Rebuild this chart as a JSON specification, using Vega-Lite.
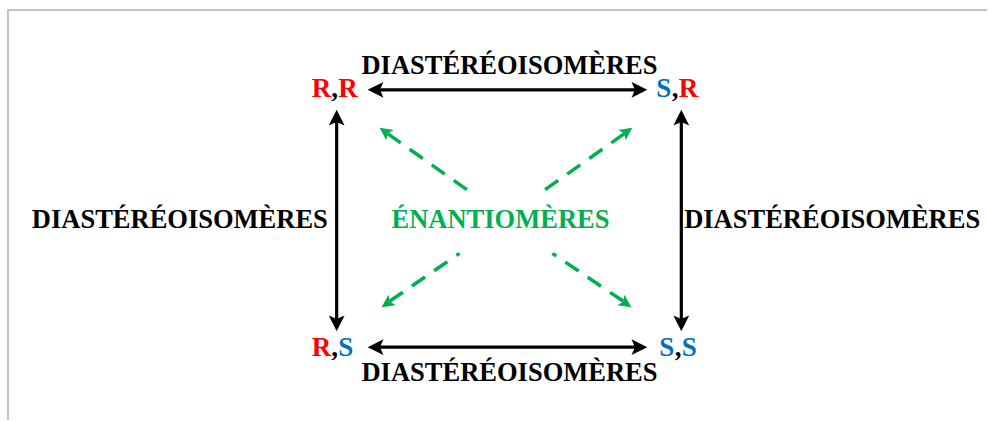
{
  "$schema": "https://vega.github.io/schema/vega-lite/v6.json",
  "width": 988,
  "height": 421,
  "autosize": {"type": "fit", "contains": "padding"},
  "padding": 0,
  "background": "#ffffff",
  "config": {"view": {"stroke": null}},
  "datasets": {
    "frame": [
      {"x1": 7, "y1": 10, "x2": 988, "y2": 10},
      {"x1": 8, "y1": 9, "x2": 8, "y2": 421}
    ],
    "shafts": [
      {"x1": 378, "y1": 90, "x2": 638, "y2": 90, "relation": "diast"},
      {"x1": 378, "y1": 348, "x2": 638, "y2": 348, "relation": "diast"},
      {"x1": 337, "y1": 120, "x2": 337, "y2": 321, "relation": "diast"},
      {"x1": 682, "y1": 120, "x2": 682, "y2": 321, "relation": "diast"},
      {"x1": 388, "y1": 134, "x2": 470, "y2": 192, "relation": "enant"},
      {"x1": 625, "y1": 134, "x2": 543, "y2": 192, "relation": "enant"},
      {"x1": 390, "y1": 302, "x2": 460, "y2": 254, "relation": "enant"},
      {"x1": 624, "y1": 302, "x2": 553, "y2": 254, "relation": "enant"}
    ],
    "heads": [
      {"x": 368, "y": 90, "direction": 270, "relation": "diast"},
      {"x": 648, "y": 90, "direction": 90, "relation": "diast"},
      {"x": 368, "y": 348, "direction": 270, "relation": "diast"},
      {"x": 648, "y": 348, "direction": 90, "relation": "diast"},
      {"x": 337, "y": 110, "direction": 0, "relation": "diast"},
      {"x": 337, "y": 332, "direction": 180, "relation": "diast"},
      {"x": 682, "y": 110, "direction": 0, "relation": "diast"},
      {"x": 682, "y": 332, "direction": 180, "relation": "diast"},
      {"x": 380, "y": 128, "direction": 305.4, "relation": "enant"},
      {"x": 633, "y": 128, "direction": 54.6, "relation": "enant"},
      {"x": 382, "y": 308, "direction": 235.3, "relation": "enant"},
      {"x": 632, "y": 308, "direction": 124.4, "relation": "enant"}
    ],
    "labels": [
      {"x": 510, "y": 74, "text": "DIASTÉRÉOISOMÈRES", "tone": "diast"},
      {"x": 510, "y": 382, "text": "DIASTÉRÉOISOMÈRES", "tone": "diast"},
      {"x": 180, "y": 229, "text": "DIASTÉRÉOISOMÈRES", "tone": "diast"},
      {"x": 833, "y": 229, "text": "DIASTÉRÉOISOMÈRES", "tone": "diast"},
      {"x": 501, "y": 229, "text": "ÉNANTIOMÈRES", "tone": "enant"}
    ],
    "configs": [
      {"x": 312, "y": 97, "text": "R", "tone": "R"},
      {"x": 331.5, "y": 97, "text": ",", "tone": "sep"},
      {"x": 338.5, "y": 97, "text": "R", "tone": "R"},
      {"x": 657, "y": 97, "text": "S", "tone": "S"},
      {"x": 672.5, "y": 97, "text": ",", "tone": "sep"},
      {"x": 679.5, "y": 97, "text": "R", "tone": "R"},
      {"x": 312, "y": 357, "text": "R", "tone": "R"},
      {"x": 331.5, "y": 357, "text": ",", "tone": "sep"},
      {"x": 338.5, "y": 357, "text": "S", "tone": "S"},
      {"x": 660, "y": 357, "text": "S", "tone": "S"},
      {"x": 675.5, "y": 357, "text": ",", "tone": "sep"},
      {"x": 682.5, "y": 357, "text": "S", "tone": "S"}
    ]
  },
  "encoding": {
    "x": {"field": "x1", "type": "quantitative", "axis": null, "scale": {"domain": [0, 988], "nice": false, "zero": false}},
    "y": {"field": "y1", "type": "quantitative", "axis": null, "scale": {"domain": [0, 421], "nice": false, "zero": false, "reverse": true}}
  },
  "layer": [
    {
      "data": {"name": "frame"},
      "mark": {"type": "rule", "color": "#c3c3c3", "strokeWidth": 2},
      "encoding": {
        "x2": {"field": "x2"},
        "y2": {"field": "y2"}
      }
    },
    {
      "data": {"name": "shafts"},
      "transform": [{"filter": "datum.relation === 'diast'"}],
      "mark": {"type": "rule", "color": "#000000", "strokeWidth": 3.2},
      "encoding": {
        "x2": {"field": "x2"},
        "y2": {"field": "y2"}
      }
    },
    {
      "data": {"name": "shafts"},
      "transform": [{"filter": "datum.relation === 'enant'"}],
      "mark": {"type": "rule", "color": "#00b050", "strokeWidth": 3.5, "strokeDash": [16, 11]},
      "encoding": {
        "x2": {"field": "x2"},
        "y2": {"field": "y2"}
      }
    },
    {
      "data": {"name": "heads"},
      "transform": [{"filter": "datum.relation === 'diast'"}],
      "mark": {"type": "point", "filled": true, "opacity": 1, "color": "#000000", "strokeWidth": 0, "shape": "M0,0 L0.5,1 L0,0.78 L-0.5,1 Z", "size": 1000},
      "encoding": {
        "x": {"field": "x", "type": "quantitative"},
        "y": {"field": "y", "type": "quantitative"},
        "angle": {"field": "direction", "type": "quantitative", "scale": null}
      }
    },
    {
      "data": {"name": "heads"},
      "transform": [{"filter": "datum.relation === 'enant'"}],
      "mark": {"type": "point", "filled": true, "opacity": 1, "color": "#00b050", "strokeWidth": 0, "shape": "M0,0 L0.5,1 L0,0.78 L-0.5,1 Z", "size": 650},
      "encoding": {
        "x": {"field": "x", "type": "quantitative"},
        "y": {"field": "y", "type": "quantitative"},
        "angle": {"field": "direction", "type": "quantitative", "scale": null}
      }
    },
    {
      "data": {"name": "labels"},
      "mark": {"type": "text", "font": "Liberation Serif", "fontWeight": "bold", "fontSize": 26.5, "align": "center", "baseline": "alphabetic"},
      "encoding": {
        "x": {"field": "x", "type": "quantitative"},
        "y": {"field": "y", "type": "quantitative"},
        "text": {"field": "text"},
        "color": {"field": "tone", "type": "nominal", "legend": null, "scale": {"domain": ["R", "S", "sep", "diast", "enant"], "range": ["#ff0000", "#0070c0", "#000000", "#000000", "#00b050"]}}
      }
    },
    {
      "data": {"name": "configs"},
      "mark": {"type": "text", "font": "Liberation Serif", "fontWeight": "bold", "fontSize": 27, "align": "left", "baseline": "alphabetic"},
      "encoding": {
        "x": {"field": "x", "type": "quantitative"},
        "y": {"field": "y", "type": "quantitative"},
        "text": {"field": "text"},
        "color": {"field": "tone", "type": "nominal", "legend": null, "scale": {"domain": ["R", "S", "sep", "diast", "enant"], "range": ["#ff0000", "#0070c0", "#000000", "#000000", "#00b050"]}}
      }
    }
  ]
}
